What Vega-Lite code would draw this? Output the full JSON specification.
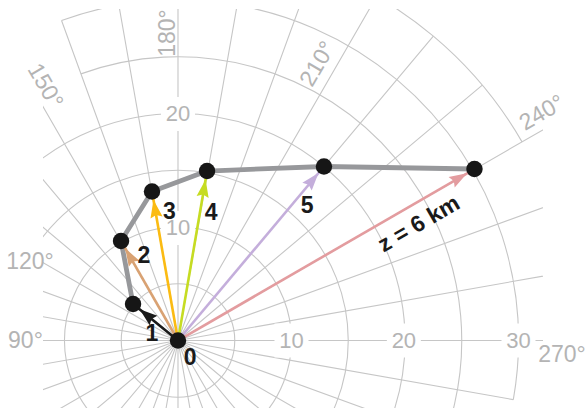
{
  "$schema": "https://vega.github.io/schema/vega-lite/v6.json",
  "width": 500,
  "height": 399,
  "autosize": {"type": "none"},
  "padding": {"left": 43, "top": 9, "right": 44, "bottom": 0},
  "background": "white",
  "config": {"view": {"stroke": null}},
  "datasets": {
    "grid": [
      {"d1": 0, "d2": 360, "r1": 5, "r2": 5},
      {"d1": 0, "d2": 360, "r1": 10, "r2": 10},
      {"d1": 0, "d2": 360, "r1": 15, "r2": 15},
      {"d1": 0, "d2": 360, "r1": 20, "r2": 20},
      {"d1": 160, "d2": 300, "r1": 25, "r2": 25},
      {"d1": 160, "d2": 280, "r1": 30, "r2": 30},
      {"d1": 200, "d2": 240, "r1": 35, "r2": 35},
      {"d1": 0, "d2": 0, "r1": 40, "r2": 0},
      {"d1": 10, "d2": 10, "r1": 40, "r2": 0},
      {"d1": 20, "d2": 20, "r1": 40, "r2": 0},
      {"d1": 30, "d2": 30, "r1": 40, "r2": 0},
      {"d1": 40, "d2": 40, "r1": 40, "r2": 0},
      {"d1": 50, "d2": 50, "r1": 40, "r2": 0},
      {"d1": 60, "d2": 60, "r1": 40, "r2": 0},
      {"d1": 70, "d2": 70, "r1": 40, "r2": 0},
      {"d1": 80, "d2": 80, "r1": 40, "r2": 0},
      {"d1": 90, "d2": 90, "r1": 40, "r2": 0},
      {"d1": 100, "d2": 100, "r1": 40, "r2": 0},
      {"d1": 110, "d2": 110, "r1": 40, "r2": 0},
      {"d1": 120, "d2": 120, "r1": 40, "r2": 0},
      {"d1": 130, "d2": 130, "r1": 40, "r2": 0},
      {"d1": 140, "d2": 140, "r1": 40, "r2": 0},
      {"d1": 150, "d2": 150, "r1": 40, "r2": 0},
      {"d1": 160, "d2": 160, "r1": 30, "r2": 0},
      {"d1": 170, "d2": 170, "r1": 40, "r2": 0},
      {"d1": 180, "d2": 180, "r1": 40, "r2": 0},
      {"d1": 190, "d2": 190, "r1": 40, "r2": 0},
      {"d1": 200, "d2": 200, "r1": 40, "r2": 0},
      {"d1": 210, "d2": 210, "r1": 40, "r2": 0},
      {"d1": 220, "d2": 220, "r1": 35, "r2": 0},
      {"d1": 230, "d2": 230, "r1": 35, "r2": 0},
      {"d1": 240, "d2": 240, "r1": 40, "r2": 0},
      {"d1": 250, "d2": 250, "r1": 40, "r2": 0},
      {"d1": 260, "d2": 260, "r1": 40, "r2": 0},
      {"d1": 270, "d2": 270, "r1": 40, "r2": 0},
      {"d1": 280, "d2": 280, "r1": 30, "r2": 0},
      {"d1": 290, "d2": 290, "r1": 40, "r2": 0},
      {"d1": 300, "d2": 300, "r1": 40, "r2": 0},
      {"d1": 310, "d2": 310, "r1": 40, "r2": 0},
      {"d1": 320, "d2": 320, "r1": 40, "r2": 0},
      {"d1": 330, "d2": 330, "r1": 40, "r2": 0},
      {"d1": 340, "d2": 340, "r1": 40, "r2": 0},
      {"d1": 350, "d2": 350, "r1": 40, "r2": 0}
    ],
    "rlab": [
      {"t": "10", "u": 10.0, "v": 0.0},
      {"t": "20", "u": 19.9, "v": 0.0},
      {"t": "30", "u": 30.0, "v": 0.0},
      {"t": "10", "u": 0.0, "v": 9.91},
      {"t": "20", "u": 0.0, "v": 19.96}
    ],
    "dlab": [
      {"t": "90°", "u": -13.44, "v": -0.04},
      {"t": "120°", "u": -13.04, "v": 6.92},
      {"t": "150°", "u": -11.72, "v": 22.42},
      {"t": "180°", "u": -0.88, "v": 27.09},
      {"t": "210°", "u": 12.33, "v": 24.36},
      {"t": "240°", "u": 32.07, "v": 20.04},
      {"t": "270°", "u": 33.83, "v": -1.28}
    ],
    "pts": [
      {"id": 0, "u": 0.0, "v": 0.0, "bearing": 0},
      {"id": 1, "u": -3.96, "v": 3.22, "bearing": -50.9},
      {"id": 2, "u": -5.02, "v": 8.77, "bearing": -29.8},
      {"id": 3, "u": -2.29, "v": 13.13, "bearing": -9.9},
      {"id": 4, "u": 2.56, "v": 14.93, "bearing": 9.7},
      {"id": 5, "u": 12.86, "v": 15.33, "bearing": 40.0},
      {"id": 6, "u": 26.12, "v": 15.11, "bearing": 60.0}
    ],
    "vec": [
      {"id": 1, "k": 0, "u": 0.0, "v": 0.0}, {"id": 1, "k": 1, "u": -3.96, "v": 3.22},
      {"id": 2, "k": 0, "u": 0.0, "v": 0.0}, {"id": 2, "k": 1, "u": -5.02, "v": 8.77},
      {"id": 3, "k": 0, "u": 0.0, "v": 0.0}, {"id": 3, "k": 1, "u": -2.29, "v": 13.13},
      {"id": 4, "k": 0, "u": 0.0, "v": 0.0}, {"id": 4, "k": 1, "u": 2.56, "v": 14.93},
      {"id": 5, "k": 0, "u": 0.0, "v": 0.0}, {"id": 5, "k": 1, "u": 12.86, "v": 15.33},
      {"id": 6, "k": 0, "u": 0.0, "v": 0.0}, {"id": 6, "k": 1, "u": 26.12, "v": 15.11}
    ],
    "nlab": [
      {"t": "0", "u": 1.06, "v": -1.54},
      {"t": "1", "u": -2.29, "v": 0.57},
      {"t": "2", "u": -3.0, "v": 7.44},
      {"t": "3", "u": -0.75, "v": 11.3},
      {"t": "4", "u": 2.91, "v": 11.23},
      {"t": "5", "u": 11.37, "v": 11.85},
      {"t": "z = 6 km", "u": 21.23, "v": 10.26}
    ]
  },
  "layer": [
    {
      "data": {"name": "grid"},
      "mark": {"type": "arc", "filled": false, "stroke": "#c6c6c6", "strokeWidth": 1.1, "clip": true},
      "encoding": {
        "x": {"datum": 0, "type": "quantitative", "scale": {"domain": [-11.894, 32.159], "nice": false, "zero": false}, "axis": null},
        "y": {"datum": 0, "type": "quantitative", "scale": {"domain": [-5.947, 29.207], "nice": false, "zero": false}, "axis": null},
        "theta": {"field": "d1", "type": "quantitative", "scale": {"domain": [0, 360], "range": [-3.141592653589793, 3.141592653589793]}},
        "theta2": {"field": "d2"},
        "radius": {"field": "r1", "type": "quantitative", "scale": {"type": "linear", "zero": true, "domain": [0, 10], "range": [0, 113.5]}},
        "radius2": {"field": "r2"}
      }
    },
    {
      "data": {"name": "rlab"},
      "mark": {"type": "point", "shape": "square", "filled": true, "fill": "white", "opacity": 1, "strokeWidth": 0, "size": 1156},
      "encoding": {
        "x": {"field": "u", "type": "quantitative", "scale": {"domain": [-11.894, 32.159], "nice": false, "zero": false}, "axis": null},
        "y": {"field": "v", "type": "quantitative", "scale": {"domain": [-5.947, 29.207], "nice": false, "zero": false}, "axis": null}
      }
    },
    {
      "data": {"name": "rlab"},
      "mark": {"type": "text", "font": "Liberation Sans", "fontSize": 22, "color": "#b4b4b4", "align": "center", "baseline": "middle"},
      "encoding": {
        "x": {"field": "u", "type": "quantitative"},
        "y": {"field": "v", "type": "quantitative"},
        "text": {"field": "t"}
      }
    },
    {
      "data": {"name": "dlab"},
      "transform": [{"filter": "datum.t == '90°' || datum.t == '120°' || datum.t == '270°'"}],
      "mark": {"type": "text", "font": "Liberation Sans", "fontSize": 23, "color": "#b4b4b4", "align": "center", "baseline": "middle"},
      "encoding": {
        "x": {"field": "u", "type": "quantitative"},
        "y": {"field": "v", "type": "quantitative"},
        "text": {"field": "t"}
      }
    },
    {
      "data": {"name": "dlab"},
      "transform": [{"filter": "datum.t == '150°'"}],
      "mark": {"type": "text", "font": "Liberation Sans", "fontSize": 23, "color": "#b4b4b4", "align": "center", "baseline": "middle", "angle": 60},
      "encoding": {
        "x": {"field": "u", "type": "quantitative"},
        "y": {"field": "v", "type": "quantitative"},
        "text": {"field": "t"}
      }
    },
    {
      "data": {"name": "dlab"},
      "transform": [{"filter": "datum.t == '180°'"}],
      "mark": {"type": "text", "font": "Liberation Sans", "fontSize": 23, "color": "#b4b4b4", "align": "center", "baseline": "middle", "angle": -90},
      "encoding": {
        "x": {"field": "u", "type": "quantitative"},
        "y": {"field": "v", "type": "quantitative"},
        "text": {"field": "t"}
      }
    },
    {
      "data": {"name": "dlab"},
      "transform": [{"filter": "datum.t == '210°'"}],
      "mark": {"type": "text", "font": "Liberation Sans", "fontSize": 23, "color": "#b4b4b4", "align": "center", "baseline": "middle", "angle": -60},
      "encoding": {
        "x": {"field": "u", "type": "quantitative"},
        "y": {"field": "v", "type": "quantitative"},
        "text": {"field": "t"}
      }
    },
    {
      "data": {"name": "dlab"},
      "transform": [{"filter": "datum.t == '240°'"}],
      "mark": {"type": "text", "font": "Liberation Sans", "fontSize": 23, "color": "#b4b4b4", "align": "center", "baseline": "middle", "angle": -30},
      "encoding": {
        "x": {"field": "u", "type": "quantitative"},
        "y": {"field": "v", "type": "quantitative"},
        "text": {"field": "t"}
      }
    },
    {
      "data": {"name": "pts"},
      "transform": [{"filter": "datum.id >= 1"}],
      "mark": {"type": "line", "color": "#97989b", "strokeWidth": 4.8, "strokeJoin": "round"},
      "encoding": {
        "x": {"field": "u", "type": "quantitative"},
        "y": {"field": "v", "type": "quantitative"},
        "order": {"field": "id", "type": "quantitative"}
      }
    },
    {
      "data": {"name": "vec"},
      "mark": {"type": "line", "strokeWidth": 2.6},
      "encoding": {
        "x": {"field": "u", "type": "quantitative"},
        "y": {"field": "v", "type": "quantitative"},
        "order": {"field": "k", "type": "quantitative"},
        "color": {"field": "id", "type": "nominal", "scale": {"domain": [1, 2, 3, 4, 5, 6], "range": ["#1a1a1a", "#d9a273", "#fbbb12", "#c6dc22", "#c4aedb", "#e39c9f"]}, "legend": null}
      }
    },
    {
      "data": {"name": "pts"},
      "transform": [{"filter": "datum.id >= 1"}],
      "mark": {"type": "point", "filled": true, "opacity": 1, "strokeWidth": 0, "size": 1156, "shape": "M0,0.5L-0.36,1.55L0,1.4L0.36,1.55Z"},
      "encoding": {
        "x": {"field": "u", "type": "quantitative"},
        "y": {"field": "v", "type": "quantitative"},
        "angle": {"field": "bearing", "type": "quantitative", "scale": {"domain": [-180, 180], "range": [-180, 180]}},
        "color": {"field": "id", "type": "nominal", "legend": null}
      }
    },
    {
      "data": {"name": "pts"},
      "mark": {"type": "point", "filled": true, "opacity": 1, "color": "#161616", "size": 270, "shape": "circle", "strokeWidth": 0},
      "encoding": {
        "x": {"field": "u", "type": "quantitative"},
        "y": {"field": "v", "type": "quantitative"}
      }
    },
    {
      "data": {"name": "nlab"},
      "transform": [{"filter": "datum.t != 'z = 6 km'"}],
      "mark": {"type": "text", "font": "Liberation Sans", "fontSize": 23, "fontWeight": "bold", "color": "#1a1a1a", "align": "center", "baseline": "middle"},
      "encoding": {
        "x": {"field": "u", "type": "quantitative"},
        "y": {"field": "v", "type": "quantitative"},
        "text": {"field": "t"}
      }
    },
    {
      "data": {"name": "nlab"},
      "transform": [{"filter": "datum.t == 'z = 6 km'"}],
      "mark": {"type": "text", "font": "Liberation Sans", "fontSize": 23, "fontWeight": "bold", "color": "#1a1a1a", "align": "center", "baseline": "middle", "angle": -30},
      "encoding": {
        "x": {"field": "u", "type": "quantitative"},
        "y": {"field": "v", "type": "quantitative"},
        "text": {"field": "t"}
      }
    }
  ]
}
